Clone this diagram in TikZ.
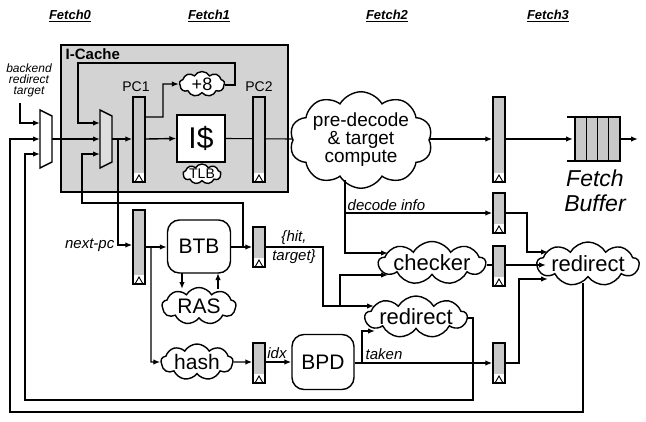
\documentclass[tikz,border=0pt]{standalone}
\usepackage{fontspec}
\setmainfont{Liberation Sans}
\usetikzlibrary{shapes.symbols,arrows.meta}
\definecolor{boxgray}{RGB}{211,211,211}
\definecolor{reggray}{RGB}{200,200,200}
\definecolor{muxgray}{RGB}{222,222,222}
\newcommand{\fsz}[1]{\fontsize{#1}{#1}\selectfont}
\begin{document}
\begin{tikzpicture}[x=1pt,y=-1pt,line width=1.4pt,
  arr/.style={-{Latex[length=7pt,width=5.5pt]}},
  reg/.style={draw,fill=reggray,minimum width=12pt,inner sep=0pt,
    path picture={
      \fill[white] (path picture bounding box.south west) rectangle ([yshift=9pt]path picture bounding box.south east);
      \draw[line width=0.9pt] ([xshift=2pt]path picture bounding box.south west) -- ([yshift=7pt]path picture bounding box.south) -- ([xshift=-2pt]path picture bounding box.south east);}},
  cl/.style={cloud,draw,fill=white,cloud puffs=9,cloud puff arc=120,cloud ignores aspect,inner sep=0pt},
  rbox/.style={draw,fill=white,rounded corners=12pt,inner sep=0pt},
  hdr/.style={font=\fsz{13}\bfseries\itshape},
  lbl/.style={font=\fsz{15}\itshape,inner sep=1pt}]
\useasboundingbox (0,0) rectangle (646,421);

% headers
\node[hdr] (h0) at (70,16) {\underline{Fetch0}};
\node[hdr] (h1) at (209,16) {\underline{Fetch1}};
\node[hdr] (h2) at (387,16) {\underline{Fetch2}};
\node[hdr] (h3) at (548,16) {\underline{Fetch3}};

% I-Cache box
\draw[fill=boxgray] (61,45) rectangle (288,192);
\node[font=\fsz{15}\bfseries,anchor=west,inner sep=0pt] (icl) at (65,54) {I-Cache};

% backend label
\node[font=\fsz{12}\itshape,align=center,inner sep=0pt] (bkd) at (29,80) {backend\\[-1pt]redirect\\[-1pt]target};

% feedback wires (drawn first)
\coordinate (m1a) at (40,123);
\coordinate (m1b) at (40,139);
\coordinate (m1c) at (40,154);
\coordinate (m2a) at (100,123);
\coordinate (m2b) at (100,139);
\coordinate (m2c) at (100,154);
\draw[arr] (20,103) |- (m1a);
\draw[arr] (52,139) -- (m2b);
\draw[arr] (583,283) -- (583,412) -- (10,412) -- (10,139) -- (m1b);
\draw[arr] (458,318) -- (473,318) -- (473,400) -- (25,400) -- (25,154) -- (m1c);
\draw[arr] (225,85) -- (235,85) -- (235,63) -- (78,63) -- (78,123) -- (m2a);
\draw[arr] (243,247) -- (243,203) -- (82,203) -- (82,154) -- (m2c);

% muxes
\draw[fill=white] (40,110) -- (52,116) -- (52,162) -- (40,168) -- cycle;
\draw[fill=muxgray] (100,110) -- (112,116) -- (112,162) -- (100,168) -- cycle;

% registers
\node[reg,minimum height=85pt] (pc1) at (139,139.5) {};
\node[reg,minimum height=85pt] (f3) at (499,139.5) {};
\node[reg,minimum height=74pt] (nreg) at (139,247) {};
\node[reg,minimum height=40pt] (breg) at (259,247) {};
\node[reg,minimum height=40pt] (hreg) at (259,363) {};
\node[reg,minimum height=40pt] (dreg) at (499,213) {};
\node[reg,minimum height=40pt] (creg) at (499,266) {};
\node[reg,minimum height=40pt] (treg) at (499,363) {};
\node[font=\fsz{14}] (pc1l) at (136,87) {PC1};
\node[font=\fsz{14}] (pc2l) at (259,87) {PC2};

% I$ and clouds in fetch1
\node[draw,fill=white,minimum width=48pt,minimum height=47pt,inner sep=0pt,font=\fsz{30}] (ic) at (201,138.5) {I\$};
\node[cl,minimum width=45pt,minimum height=25pt,font=\fsz{18}] (p8) at (202,84) {+8};
\node[cl,minimum width=38pt,minimum height=18pt,font=\fsz{14}] (tlb) at (202,174) {TLB};

% mux2 -> PC1, next-pc
\draw[arr] (112,139) -- (pc1.west |- 0,139);
\draw[arr] (118,139) -- (118,245) -- (nreg.west |- 0,245);
\node[lbl,anchor=east] (npc) at (116,245) {next-pc};
\draw[arr] (pc1.east |- 0,139) -- (ic.west);
\draw[arr] (pc1.east |- 0,117) -- (163,117) -- (163,84) -- (p8.west);

% I$ -> predecode (under PC2)
\node[cl,cloud puffs=10,minimum width=128pt,minimum height=80pt,font=\fsz{19},align=center] (pd) at (361,140) {pre-decode\\[-1pt]\& target\\[-1pt]compute};
\draw[line width=1.1pt] (ic.east) -- (pd.west |- 0,139);
\node[reg,minimum height=85pt] (pc2) at (259,139.5) {};

% Fetch buffer
\draw[arr] (pd.east |- 0,139) -- (f3.west |- 0,139);
\draw[arr] (f3.east |- 0,139) -- (573,139);
\foreach \i in {0,1,2,3} \draw[fill=reggray] (575+\i*11.25,117) rectangle ++(11.25,44);
\draw (567,117) -- (620,117);
\draw (567,161) -- (620,161);
\coordinate (fbo) at (620,139);
\draw[arr] (fbo) -- (638,139);
\node[font=\fsz{23}\itshape,align=center,inner sep=0pt] (fbl) at (595,191) {Fetch\\[2pt]Buffer};

% BTB etc
\node[rbox,minimum width=63pt,minimum height=53pt,font=\fsz{21}] (btb) at (199,246.5) {BTB};
\node[cl,minimum width=74pt,minimum height=37pt,font=\fsz{21}] (ras) at (199,306) {RAS};
\node[cl,minimum width=72pt,minimum height=36pt,font=\fsz{21}] (hash) at (197,362) {hash};
\node[rbox,minimum width=62pt,minimum height=55pt,font=\fsz{21}] (bpd) at (323,362) {BPD};
\draw[arr] (nreg.east |- 0,247) -- (btb.west |- 0,247);
\draw[arr] (151,247) -- (151,362) -- (hash.west);
\draw[arr] (182,273) -- (182,289);
\draw[arr] (218,289) -- (218,273);
\draw[arr] (btb.east |- 0,247) -- (breg.west |- 0,247);
\draw[arr] (hash.east) -- (hreg.west |- 0,362);
\draw[arr] (hreg.east |- 0,362) -- (bpd.west);
\node[lbl,anchor=south] (idx) at (277,360) {idx};
\node[lbl,align=center,inner sep=0pt] (ht) at (294,247) {\{hit,\\[4pt]target\}};

% Fetch2 logic
\node[cl,minimum width=92pt,minimum height=40pt,font=\fsz{22}] (chk) at (432,263) {checker};
\node[cl,minimum width=90pt,minimum height=42pt,font=\fsz{22}] (r2) at (416,317) {redirect};
\node[cl,minimum width=92pt,minimum height=44pt,font=\fsz{22}] (r3) at (588,264) {redirect};
\draw[arr] (345,180) -- (345,253) -- (388,253);
\draw[arr] (345,213) -- (dreg.west |- 0,213);
\node[lbl,anchor=south west] (dil) at (346,212) {decode info};
\draw[arr] (breg.east |- 0,247) -- (323,247) -- (323,306) -- (374,306);
\draw[arr] (340,306) -- (340,275) -- (388,275);
\draw[arr] (bpd.east |- 0,363) -- (treg.west |- 0,363);
\draw[arr] (362,363) -- (362,331) -- (375,331);
\node[lbl,anchor=south west] (tk) at (364,361) {taken};
\draw (chk.east |- 0,265) -- (creg.west |- 0,265);
\draw[arr] (creg.east |- 0,265) -- (546,265);
\draw[arr] (dreg.east |- 0,213) -- (527,213) -- (527,252) -- (548,252);
\draw[arr] (treg.east |- 0,363) -- (519,363) -- (519,279) -- (548,279);
\end{tikzpicture}
\end{document}
